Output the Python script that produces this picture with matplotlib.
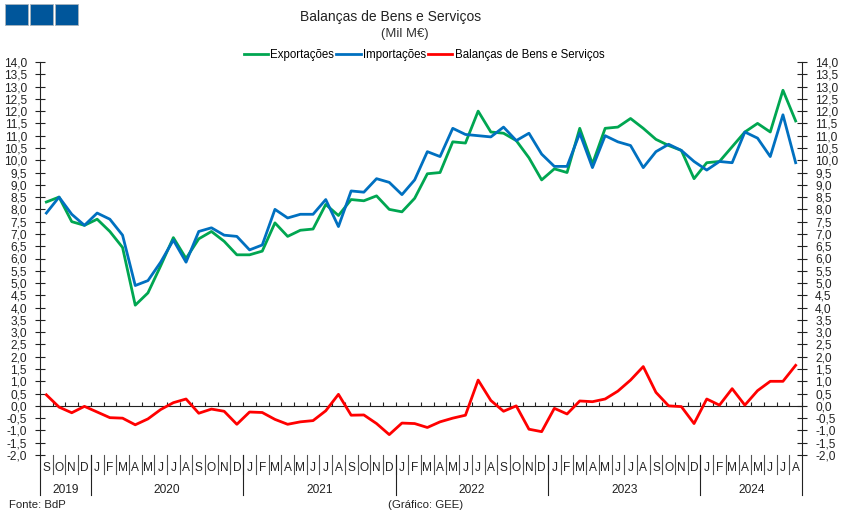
import matplotlib
matplotlib.use("Agg")
import matplotlib.pyplot as plt
from matplotlib.patches import Rectangle
from matplotlib.transforms import blended_transform_factory
import numpy as np

plt.rcParams['font.family'] = ['Liberation Sans', 'DejaVu Sans']

months = list("SOND") + list("JFMAMJJASOND") * 4 + list("JFMAMJJA")
years = ["2019", "2020", "2021", "2022", "2023", "2024"]
months_per_year = [4, 12, 12, 12, 12, 8]

exportacoes = [8.3, 8.5, 7.5, 7.35,
               7.6, 7.1, 6.45, 4.1, 4.6, 5.7, 6.85, 6.0, 6.8, 7.1, 6.7, 6.15,
               6.15, 6.3, 7.45, 6.9, 7.15, 7.2, 8.2, 7.75, 8.4, 8.35, 8.55, 8.0,
               7.9, 8.45, 9.45, 9.5, 10.75, 10.7, 12.0, 11.15, 11.1, 10.8, 10.1, 9.2,
               9.65, 9.5, 11.3, 9.85, 11.3, 11.35, 11.7, 11.3, 10.85, 10.6, 10.4, 9.25,
               9.9, 9.95, 10.55, 11.15, 11.5, 11.15, 12.85, 11.6]
importacoes = [7.85, 8.5, 7.8, 7.35,
               7.85, 7.6, 6.95, 4.9, 5.1, 5.85, 6.75, 5.85, 7.1, 7.25, 6.95, 6.9,
               6.35, 6.55, 8.0, 7.65, 7.8, 7.8, 8.4, 7.3, 8.75, 8.7, 9.25, 9.1,
               8.6, 9.2, 10.35, 10.15, 11.3, 11.05, 11.0, 10.95, 11.35, 10.8, 11.1, 10.25,
               9.75, 9.75, 11.1, 9.7, 11.0, 10.75, 10.6, 9.7, 10.35, 10.65, 10.4, 9.95,
               9.6, 9.95, 9.9, 11.15, 10.9, 10.15, 11.85, 9.9]
balanca = [0.45, -0.05, -0.28, -0.02,
           -0.25, -0.48, -0.5, -0.77, -0.53, -0.15, 0.13, 0.28, -0.3, -0.13, -0.22, -0.75,
           -0.25, -0.27, -0.55, -0.75, -0.65, -0.6, -0.2, 0.47, -0.38, -0.37, -0.72, -1.17,
           -0.7, -0.72, -0.88, -0.65, -0.5, -0.38, 1.05, 0.22, -0.22, 0.0, -0.95, -1.05,
           -0.1, -0.33, 0.2, 0.17, 0.28, 0.6, 1.05, 1.6, 0.55, 0.0, -0.03, -0.72,
           0.28, 0.03, 0.7, 0.03, 0.62, 1.0, 1.0, 1.65]

W, H = 843, 518
fig = plt.figure(figsize=(W / 100, H / 100), dpi=100)
# plot box in pixels: x 40..802, y 62..455
ax = fig.add_axes([40 / W, 1 - 455 / H, 762 / W, 393 / H])
x = np.arange(len(months))
l3, = ax.plot(x, balanca, color="#ff0000", lw=2.0, label="Balanças de Bens e Serviços", zorder=3)
l1, = ax.plot(x, exportacoes, color="#00a651", lw=2.0, label="Exportações", zorder=3)
l2, = ax.plot(x, importacoes, color="#0070c0", lw=2.0, label="Importações", zorder=4)
ax.set_xlim(-0.5, len(months) - 0.5)
ax.set_ylim(-2, 14)

yticks = np.arange(-2, 14.5, 0.5)
ax.set_yticks(yticks)
ax.set_yticklabels([f"{v:.1f}".replace(".", ",") for v in yticks], fontsize=8.6, color="#222222")
ax.tick_params(axis="y", which="major", left=True, right=True, labelright=True,
               direction="inout", length=7, width=0.8, pad=6, color="#222222")
ax.set_xticks(np.arange(-0.5, len(months), 1))
ax.set_xticklabels([])
ax.tick_params(axis="x", direction="in", length=3, width=0.8, color="#222222")

ax.spines["top"].set_visible(False)
ax.spines["bottom"].set_position(("data", 0))
for s in ["left", "right", "bottom"]:
    ax.spines[s].set_linewidth(0.8)
    ax.spines[s].set_color("#222222")

# category axis below the plot
tr = blended_transform_factory(ax.transData, ax.transAxes)
def py(pixel_y):
    return (455 - pixel_y) / 393

for i, m in enumerate(months):
    ax.text(i, py(468), m, transform=tr, ha="center", va="center", fontsize=8.6, color="#222222")
    if i > 0:
        ax.plot([i - 0.5, i - 0.5], [py(455), py(474)], transform=tr, color="#555555",
                lw=0.8, clip_on=False)

start = -0.5
ax.plot([start, start], [py(455), py(495)], transform=tr, color="#222222", lw=0.8, clip_on=False)
for yr, n in zip(years, months_per_year):
    end = start + n
    ax.text((start + end) / 2, py(490), yr, transform=tr, ha="center", va="center",
            fontsize=8.6, color="#222222")
    ax.plot([end, end], [py(455), py(495)], transform=tr, color="#222222", lw=0.8, clip_on=False)
    start = end

# header and footer
fig.text(390.5 / W, 1 - 17 / H, "Balanças de Bens e Serviços", ha="center", va="center",
         fontsize=10, color="#222222")
fig.text(405 / W, 1 - 34 / H, "(Mil M€)", ha="center", va="center", fontsize=9.4, color="#333333")
fig.text(9 / W, 1 - 505 / H, "Fonte: BdP", ha="left", va="center", fontsize=8.2, color="#222222")
fig.text(426 / W, 1 - 505 / H, "(Gráfico: GEE)", ha="center", va="center", fontsize=8.2, color="#222222")

leg = fig.legend(handles=[l1, l2, l3], loc="center", bbox_to_anchor=(424 / W, 1 - 55 / H), ncol=3,
                 frameon=False, fontsize=8.3, handlelength=2.1, handletextpad=0.2,
                 columnspacing=0.2, borderpad=0, borderaxespad=0)

# three blue squares of the logo
for left in [5, 30, 55]:
    fig.add_artist(Rectangle((left / W, 1 - 24.5 / H), 23 / W, 20 / H, transform=fig.transFigure,
                             facecolor="#00569b", edgecolor="#a9b4bd", lw=0.6))

fig.savefig("out.png", dpi=100)
